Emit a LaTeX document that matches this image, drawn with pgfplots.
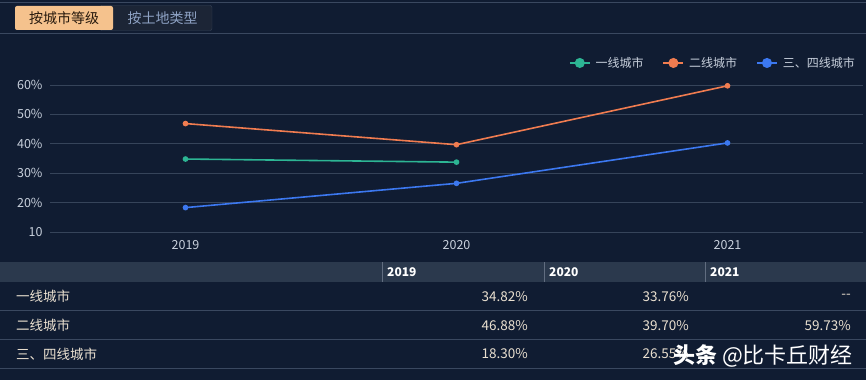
\documentclass[border=0pt]{standalone}
\usepackage{fontspec}
\setmainfont{Noto Sans CJK SC}
\usepackage{pgfplots}
\pgfplotsset{compat=1.18}
\definecolor{bg}{HTML}{101C32}
\definecolor{linec}{HTML}{3A4860}
\definecolor{gridc}{HTML}{36445A}
\definecolor{tabon}{HTML}{F5C28D}
\definecolor{taboff}{HTML}{1C2536}
\definecolor{taboffb}{HTML}{384458}
\definecolor{tabofftext}{HTML}{8EA2C4}
\definecolor{lighttext}{HTML}{C8D0DC}
\definecolor{rowtext}{HTML}{EAE0D0}
\definecolor{headbg}{HTML}{2B394D}
\definecolor{teal}{HTML}{2DB594}
\definecolor{orng}{HTML}{F07C50}
\definecolor{blu}{HTML}{3C78F0}
\pgfplotstableread{
x y
0 34.82
1 33.76
}\tierone
\pgfplotstableread{
x y
0 46.88
1 39.70
2 59.73
}\tiertwo
\pgfplotstableread{
x y
0 18.30
1 26.55
2 40.30
}\tierthree
\begin{document}
\begin{tikzpicture}[x=1pt,y=1pt]
\useasboundingbox (0,0) rectangle (866,380);
\fill[bg] (0,0) rectangle (866,380);
\draw[linec,line width=1pt] (0,377.5) -- (866,377.5);
\draw[linec,line width=1pt] (0,346.5) -- (866,346.5);
\draw[taboffb,fill=taboff,rounded corners=2pt] (100,349.5) rectangle (212,374.5);
\fill[tabon,rounded corners=2pt] (15,350) rectangle (113,374);
\node[text=black!80!brown,font=\fontsize{14}{16}\selectfont] at (64,361.5) {按城市等级};
\node[text=tabofftext,font=\fontsize{14}{16}\selectfont] at (162.5,361.5) {按土地类型};
\begin{axis}[
  at={(50pt,148pt)}, anchor=south west,
  width=813pt, height=147pt, scale only axis,
  xmin=-0.5, xmax=2.5, ymin=10, ymax=60,
  xtick={0,1,2}, xticklabels={2019,2020,2021},
  ytick={10,20,30,40,50,60}, yticklabels={10,20\%,30\%,40\%,50\%,60\%},
  ymajorgrids, grid style={gridc,line width=0.8pt},
  axis line style={draw=none}, major tick length=0pt,
  ticklabel style={text=lighttext,font=\fontsize{12.5}{14}\selectfont},
  yticklabel style={xshift=-4pt},
  xticklabel style={yshift=-5pt},
  /pgf/number format/assume math mode=true,
  clip=false,
  legend columns=3,
  legend style={at={(1,1)},anchor=south east,xshift=-3pt,yshift=12pt,draw=none,fill=none,
    text=lighttext,font=\fontsize{12}{14}\selectfont,
    /tikz/every odd column/.append style={column sep=3pt},
    /tikz/every even column/.append style={column sep=17pt}},
  legend image code/.code={\draw[#1,mark=none,line width=1.6pt] (0pt,0pt) -- (20pt,0pt);
    \fill[#1] (10pt,0pt) circle (4.2pt);},
  every axis plot/.append style={line width=1.6pt, mark=*, mark size=2pt},
]
\addplot[teal, mark options={fill=teal,draw=teal}] table {\tierone};
\addlegendentry{一线城市}
\addplot[orng, mark options={fill=orng,draw=orng}] table {\tiertwo};
\addlegendentry{二线城市}
\addplot[blu, mark options={fill=blu,draw=blu}] table {\tierthree};
\addlegendentry{三、四线城市}
\end{axis}
% table
\fill[headbg] (0,98) rectangle (866,118);
\foreach \xx in {382.5,544.5,705.5} \draw[linec!80!white,line width=0.8pt] (\xx,98) -- (\xx,118);
\foreach \yy in {70,41,11.5} \draw[linec,line width=0.8pt] (0,\yy) -- (866,\yy);
\begin{scope}[every node/.style={inner sep=0pt,font=\bfseries\fontsize{12}{14}\selectfont,text=white,anchor=west}]
\node at (387,108) {2019};
\node at (549,108) {2020};
\node at (710,108) {2021};
\end{scope}
\begin{scope}[every node/.style={inner sep=0pt,font=\fontsize{13.5}{15}\selectfont,text=rowtext}]
\node[anchor=west] at (16,83.5) {一线城市};
\node[anchor=west] at (16,54.5) {二线城市};
\node[anchor=west] at (16,26) {三、四线城市};
\node[anchor=east] at (528,83.5) {34.82\%};
\node[anchor=east] at (689,83.5) {33.76\%};
\node[anchor=east] at (851,83.5) {{-}{-}};
\node[anchor=east] at (528,54.5) {46.88\%};
\node[anchor=east] at (689,54.5) {39.70\%};
\node[anchor=east] at (851,54.5) {59.73\%};
\node[anchor=east] at (528,26) {18.30\%};
\node[anchor=east] at (689,26) {26.55\%};
\end{scope}
\node[inner sep=0pt,anchor=east,text=white,font=\fontsize{22}{24}\selectfont] at (853,24) {{\bfseries 头条} @比卡丘财经};
\end{tikzpicture}
\end{document}
